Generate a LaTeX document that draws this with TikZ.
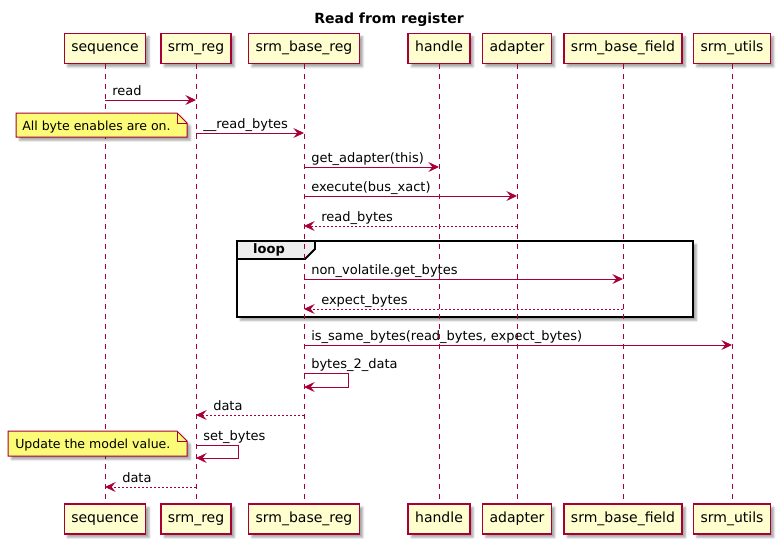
\documentclass[tikz,border=0pt]{standalone}
\usepackage{fontspec}
\setmainfont{DejaVu Sans}
\usetikzlibrary{arrows.meta, positioning, shadows.blur, calc}
\definecolor{seqRed}{HTML}{A80036}
\definecolor{boxYellow}{HTML}{FEFECE}
\definecolor{noteYellow}{HTML}{FBFB77}
\definecolor{tabGray}{HTML}{EEEEEE}
\tikzset{
    % Participant boxes (top and bottom row)
    partBox/.style={
        rectangle,
        draw=seqRed,
        fill=boxYellow,
        line width=1.1pt,
        minimum height=22.5pt,
        inner xsep=5.25pt,
        text height=7.5pt,
        text depth=2.5pt,
        font=\fontsize{10.5}{12.6}\selectfont,
        blur shadow={shadow xshift=2.5pt, shadow yshift=-2.5pt, shadow blur radius=1.5pt, shadow opacity=35}
    },
    lifeline/.style={draw=seqRed, line width=0.75pt, dash pattern=on 3.75pt off 3.75pt},
    % Message arrows & labels
    callArrow/.style={draw=seqRed, line width=0.75pt, -{Stealth[length=8pt, width=7.5pt, inset=3pt]}},
    replyArrow/.style={callArrow, dash pattern=on 1.5pt off 1.5pt},
    msgText/.style={font=\fontsize{9.75}{11.7}\selectfont, anchor=base west, inner sep=0pt},
    % Notes
    noteText/.style={
        font=\fontsize{9.4}{11.3}\selectfont,
        anchor=base west, inner sep=0pt
    },
    noteShape/.style={draw=seqRed, fill=noteYellow, line width=0.75pt,
        blur shadow={shadow xshift=2.5pt, shadow yshift=-2.5pt, shadow blur radius=1.5pt, shadow opacity=35}},
    noteFold/.style={draw=seqRed, line width=0.75pt},
    % Loop frame
    frameLine/.style={draw=black, fill=white, line width=1.4pt,
        blur shadow={shadow xshift=2.5pt, shadow yshift=-2.5pt, shadow blur radius=1.5pt, shadow opacity=35}},
    tabShape/.style={draw=black, fill=tabGray, line width=1.4pt},
    tabText/.style={font=\bfseries\fontsize{9.75}{11.7}\selectfont},
    titleText/.style={font=\bfseries\fontsize{10.5}{12.6}\selectfont, anchor=base}
}

\begin{document}
\begin{tikzpicture}[x=0.75pt, y=-0.75pt]
    \useasboundingbox (0,0) rectangle (778,544);

    % --- Title ---
    \node[titleText] (title) at (389,23) {Read from register};

    % --- Loop frame (lifelines run over it) ---
    \coordinate (loopNW) at (237,241);
    \coordinate (loopSE) at (693,317);
    \draw[frameLine] (loopNW) rectangle (loopSE);
    \draw[tabShape] (loopNW) -- ++(78,0) -- ++(0,8) -- ++(-10,10) -- ++(-68,0) -- cycle;
    \node[tabText] (loopLbl) at ($(loopNW)+(32,9)$) {loop};

    % --- Participants and lifelines ---
    \foreach \name/\x/\txt in {seq/105/sequence, reg/196/srm\_reg, base/304/srm\_base\_reg,
        handle/439/handle, adapter/517/adapter, field/623/srm\_base\_field, utils/732/srm\_utils}{
        \node[partBox] (\name) at (\x,48.5) {\txt};
        \node[partBox] (\name Bot) at (\x,519) {\txt};
        \draw[lifeline] (\name.south) -- (\name Bot.north);
    }

    % --- Messages ---
    \draw[callArrow] (seq |- 0,100) -- (reg |- 0,100);
    \node[msgText] (mRead) at ($(seq |- 0,100)+(7,-5)$) {read};

    \draw[callArrow] (reg |- 0,133) -- (base |- 0,133);
    \node[msgText] (mReadBytes) at ($(reg |- 0,133)+(7,-5)$) {\_\_read\_bytes};

    \draw[callArrow] (base |- 0,167) -- (handle |- 0,167);
    \node[msgText] (mAdapter) at ($(base |- 0,167)+(7,-5)$) {get\_adapter(this)};

    \draw[callArrow] (base |- 0,196) -- (adapter |- 0,196);
    \node[msgText] (mExec) at ($(base |- 0,196)+(7,-5)$) {execute(bus\_xact)};

    \draw[replyArrow] (adapter |- 0,226) -- (base |- 0,226);
    \node[msgText] (mRdBytes) at ($(base |- 0,226)+(17,-5)$) {read\_bytes};

    % inside loop
    \draw[callArrow] (base |- 0,279) -- (field |- 0,279);
    \node[msgText] (mGetBytes) at ($(base |- 0,279)+(7,-5)$) {non\_volatile.get\_bytes};

    \draw[replyArrow] (field |- 0,309) -- (base |- 0,309);
    \node[msgText] (mExpBytes) at ($(base |- 0,309)+(17,-5)$) {expect\_bytes};

    \draw[callArrow] (base |- 0,345) -- (utils |- 0,345);
    \node[msgText] (mSame) at ($(base |- 0,345)+(7,-5)$) {is\_same\_bytes(read\_bytes, expect\_bytes)};

    % self call on srm_base_reg
    \draw[callArrow] (base |- 0,373) -- ++(44,0) -- ++(0,14) -- (base |- 0,387);
    \node[msgText] (mB2D) at ($(base |- 0,373)+(7,-5)$) {bytes\_2\_data};

    \draw[replyArrow] (base |- 0,415) -- (reg |- 0,415);
    \node[msgText] (mData1) at ($(reg |- 0,415)+(17,-5)$) {data};

    % self call on srm_reg
    \draw[callArrow] (reg |- 0,445) -- ++(42,0) -- ++(0,13) -- (reg |- 0,458);
    \node[msgText] (mSetBytes) at ($(reg |- 0,445)+(7,-5)$) {set\_bytes};

    \draw[replyArrow] (reg |- 0,487) -- (seq |- 0,487);
    \node[msgText] (mData2) at ($(seq |- 0,487)+(17,-5)$) {data};

    % --- Notes (folded corner) ---
    \coordinate (note1NW) at (16,113);
    \coordinate (note1SE) at (187,137);
    \coordinate (note2NW) at (8,431);
    \coordinate (note2SE) at (187,456);
    \foreach \n in {note1, note2}{
        \draw[noteShape] (\n NW) -- ($(\n SE |- \n NW)+(-10,0)$) -- ($(\n SE |- \n NW)+(0,10)$)
            -- (\n SE) -- (\n NW |- \n SE) -- cycle;
        \draw[noteFold] ($(\n SE |- \n NW)+(-10,0)$) |- ($(\n SE |- \n NW)+(0,10)$);
    }
    \node[noteText] (note1) at ($(note1NW)+(6,17)$) {All byte enables are on.};
    \node[noteText] (note2) at ($(note2NW)+(7,17)$) {Update the model value.};
\end{tikzpicture}
\end{document}
